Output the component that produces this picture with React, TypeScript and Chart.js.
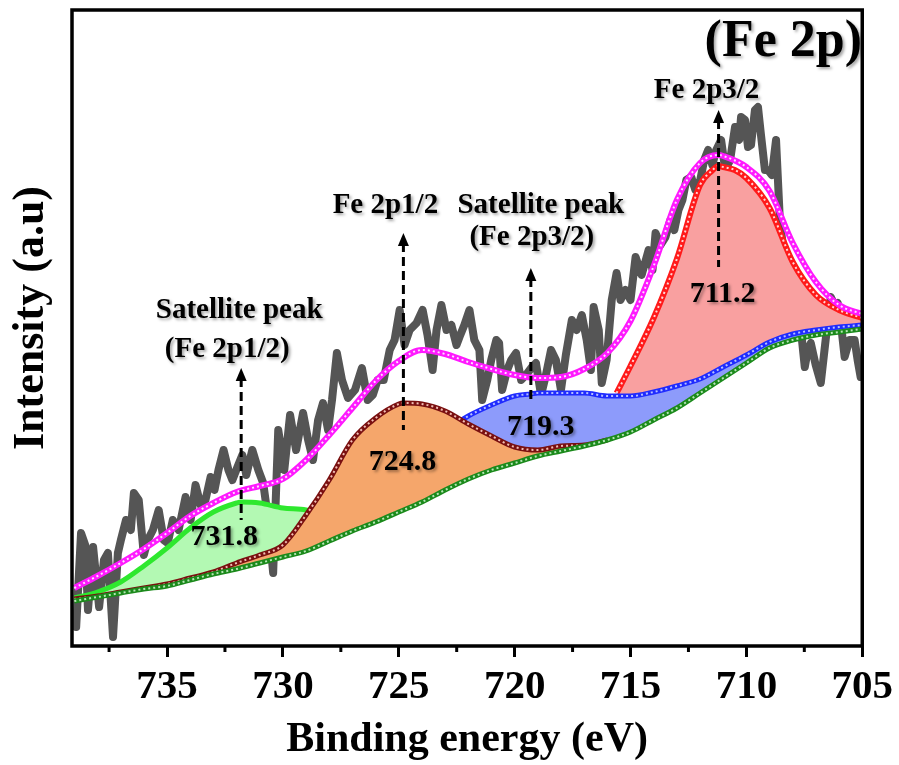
import React, { useEffect, useRef } from 'react';
import { Chart, registerables } from 'chart.js';

Chart.register(...registerables);

// ---- Measured Fe 2p spectrum (binding energy in eV, intensity in a.u.) ----
const rawEnergy = [
  738.92, 738.71, 738.53, 738.41, 738.19, 737.93, 737.72, 737.55, 737.33, 737.12,
  736.99, 736.77, 736.56, 736.43, 736.22, 736.0, 735.83, 735.61, 735.36, 735.14,
  734.97, 734.75, 734.5, 734.2, 733.98, 733.77, 733.55, 733.34, 733.12, 732.95,
  732.78, 732.56, 732.35, 732.18, 731.96, 731.75, 731.58, 731.32, 731.06, 730.85,
  730.63, 730.42, 730.2, 729.94, 729.69, 729.43, 729.13, 728.91, 728.7, 728.48,
  728.27, 728.05, 727.88, 727.67, 727.45, 727.19, 726.89, 726.59, 726.34, 726.12,
  725.91, 725.65, 725.39, 725.18, 724.96, 724.75, 724.53, 724.23, 723.97, 723.76,
  723.54, 723.37, 723.16, 722.94, 722.73, 722.51, 722.38, 722.17, 721.95, 721.74,
  721.52, 721.4, 721.18, 721.01, 720.79, 720.67, 720.54, 720.32, 720.15, 719.94,
  719.72, 719.51, 719.25, 719.08, 718.86, 718.65, 718.43, 718.22, 718.0, 717.79,
  717.53, 717.32, 717.1, 716.89, 716.71, 716.59, 716.37, 716.24, 716.03, 715.81,
  715.6, 715.43, 715.21, 715.0, 714.78, 714.52, 714.22, 714.05, 713.92, 713.71,
  713.49, 713.28, 713.11, 712.93, 712.76, 712.59, 712.38, 712.2, 711.99, 711.82,
  711.65, 711.47, 711.3, 711.09, 710.91, 710.7, 710.49, 710.31, 710.23, 710.06,
  709.93, 709.8, 709.63, 709.5, 709.37, 709.2, 709.07, 708.9, 708.72, 708.55,
  708.34, 708.12, 707.91, 707.69, 707.48, 707.35, 707.22, 707.01, 706.79, 706.58,
  706.36, 706.19, 706.06, 705.89, 705.76, 705.55, 705.33, 705.2, 705.07,
];
const rawIntensity = [
  19, 113, 101, 36, 99, 39, 86, 93, 9, 93,
  106, 126, 116, 153, 146, 91, 106, 116, 136, 106,
  103, 126, 116, 149, 126, 161, 141, 146, 169, 156,
  176, 196, 176, 166, 179, 191, 171, 196, 176, 163,
  126, 73, 216, 176, 231, 196, 233, 206, 186, 226,
  243, 216, 246, 293, 266, 248, 256, 278, 246, 251,
  266, 266, 296, 306, 336, 301, 316, 323, 336, 311,
  276, 316, 341, 316, 321, 301, 309, 321, 336, 306,
  296, 246, 266, 286, 306, 303, 256, 276, 286, 293,
  266, 271, 279, 283, 251, 271, 296, 286, 256, 291,
  326, 316, 331, 306, 276, 339, 316, 263, 286, 346,
  373, 346, 356, 346, 389, 371, 396, 376, 413, 401,
  409, 426, 416, 436, 446, 466, 469, 456, 466, 486,
  496, 481, 496, 506, 476, 486, 519, 506, 529, 526,
  499, 501, 536, 539, 511, 476, 476, 471, 506, 423,
  386, 366, 346, 326, 279, 296, 303, 281, 263, 306,
  349, 341, 343, 316, 289, 306, 306, 286, 269,
];

// ---- Fitted components ----
const bgEnergy = [739, 738, 737, 736, 735, 734, 733, 732, 731, 730, 729, 728, 727, 726, 725, 724, 723, 722, 721, 720, 719, 718, 717, 716, 715, 714, 713, 712, 711, 710, 709, 708, 707, 706, 705];
const bgIntensity = [45, 49, 53, 57, 60, 66, 72, 77, 83, 89, 95, 105, 115, 124, 134, 144, 156, 167, 176, 183, 190, 195, 200, 206, 214, 226, 238, 253, 268, 283, 298, 306, 311, 314, 317];

const sat2p12Energy = [739, 738, 737, 736, 735, 734, 733, 732, 731.8, 731, 730, 729, 728, 727];
const sat2p12Intensity = [48, 54, 64, 80, 98, 118, 134, 143, 144, 143, 138, 136, 128, 124];

const p12Energy = [739, 738, 737, 736, 735, 734, 733, 732, 731, 730, 729, 728, 727, 726, 725, 724.8, 724, 723, 722, 721, 720, 719, 718, 717, 716];
const p12Intensity = [47, 50, 54, 58, 62, 68, 74, 83, 91, 101, 131, 166, 206, 228, 242, 243, 242, 235, 222, 210, 199, 196, 200, 201, 206];

const sat2p32Energy = [723, 722, 721, 720, 719.3, 719, 718, 717, 716, 715, 714, 713, 712, 711, 710, 709, 708, 707, 706, 705];
const sat2p32Intensity = [215, 230, 241, 250, 252, 253, 253, 253, 250, 250, 254, 260, 267, 279, 291, 304, 312, 316, 319, 321];

const p32Energy = [715.6, 715, 714, 713, 712, 711.5, 711.2, 711, 710.5, 710, 709, 708, 707, 706, 705];
const p32Intensity = [253, 280, 328, 387, 461, 475, 480, 479, 476, 468, 438, 384, 351, 336, 328];

const envEnergy = [739, 738, 737, 736, 735, 734, 733, 732, 731, 730, 729, 728, 727, 726, 725, 724, 723, 722, 721, 720, 719, 718, 717, 716, 715, 714, 713, 712, 711.2, 711, 710, 709, 708, 707, 706, 705];
const envIntensity = [58, 70, 83, 97, 113, 130, 143, 154, 160, 167, 186, 211, 238, 265, 285, 296, 292, 284, 277, 271, 268, 269, 277, 293, 325, 380, 446, 483, 491, 490, 479, 455, 403, 364, 341, 332];

// ---- Axis ----
const majorTicks = [735, 730, 725, 720, 715, 710, 705];
const minorTicks = [737.5, 732.5, 727.5, 722.5, 717.5, 712.5, 707.5];

// ---- Peak annotations ----
const peakCenters = [731.8, 724.8, 719.3, 711.2];
const peakNames = [
  ['Satellite peak', '(Fe 2p1/2)'],
  ['Fe 2p1/2'],
  ['Satellite peak', '(Fe 2p3/2)'],
  ['Fe 2p3/2'],
];

// arrow ends and text baselines in intensity units, horizontal offsets in px
const markerLayout = [
  { arrowFrom: 126, arrowTo: 278, valueDx: -17, valueY: 101, nameDx: [-2, -14], nameY: [328, 289] },
  { arrowFrom: 216, arrowTo: 413, valueDx: -1, valueY: 176, nameDx: [-18], nameY: [433] },
  { arrowFrom: 246, arrowTo: 378, valueDx: 10, valueY: 211, nameDx: [10, 1], nameY: [433, 401] },
  { arrowFrom: 379, arrowTo: 536, valueDx: 4, valueY: 344, nameDx: [-12], nameY: [548] },
];

const SERIF = "'Liberation Serif', 'Times New Roman', Times, serif";

const toPoints = (xs: number[], ys: number[]) => xs.map((x, i) => ({ x, y: ys[i] }));

const curve = (data: any[], color: string, width: number, order: number, extra: any = {}) => ({
  data,
  borderColor: color,
  borderWidth: width,
  pointRadius: 0,
  pointHoverRadius: 0,
  cubicInterpolationMode: 'monotone',
  fill: false,
  order,
  ...extra,
});

// light dotted trace laid over a fitted curve
const beads = (data: any[], color: string, order: number) => ({
  data,
  borderColor: color,
  borderWidth: 2,
  borderDash: [2, 3],
  pointRadius: 0,
  pointHoverRadius: 0,
  cubicInterpolationMode: 'monotone',
  fill: false,
  order,
});

const shadowOn = (ctx: CanvasRenderingContext2D) => {
  ctx.shadowColor = 'rgba(0,0,0,0.35)';
  ctx.shadowBlur = 3;
  ctx.shadowOffsetX = 2;
  ctx.shadowOffsetY = 2;
};
const shadowOff = (ctx: CanvasRenderingContext2D) => {
  ctx.shadowColor = 'rgba(0,0,0,0)';
  ctx.shadowBlur = 0;
  ctx.shadowOffsetX = 0;
  ctx.shadowOffsetY = 0;
};

const decorPlugin = {
  id: 'decor',
  afterDatasetsDraw(chart: any) {
    const { ctx, chartArea: a, scales } = chart;
    const x = scales.x;
    const y = scales.y;
    ctx.save();

    // minor ticks
    ctx.strokeStyle = '#000';
    ctx.lineWidth = 3;
    minorTicks.forEach((v) => {
      const px = x.getPixelForValue(v);
      ctx.beginPath();
      ctx.moveTo(px, a.bottom);
      ctx.lineTo(px, a.bottom + 6);
      ctx.stroke();
    });

    // frame
    ctx.lineWidth = 3.5;
    ctx.strokeRect(a.left, a.top, a.right - a.left, a.bottom - a.top);

    // dashed arrows marking the peaks
    ctx.fillStyle = '#000';
    peakCenters.forEach((c, i) => {
      const m = markerLayout[i];
      const px = x.getPixelForValue(c);
      const yTip = y.getPixelForValue(m.arrowTo);
      const yBase = y.getPixelForValue(m.arrowFrom);
      ctx.setLineDash([9, 5]);
      ctx.lineWidth = 3;
      ctx.beginPath();
      ctx.moveTo(px, yTip + 10);
      ctx.lineTo(px, yBase);
      ctx.stroke();
      ctx.setLineDash([]);
      ctx.beginPath();
      ctx.moveTo(px, yTip);
      ctx.lineTo(px - 5.5, yTip + 13);
      ctx.lineTo(px + 5.5, yTip + 13);
      ctx.closePath();
      ctx.fill();
    });

    // peak labels
    shadowOn(ctx);
    ctx.textAlign = 'center';
    ctx.textBaseline = 'alphabetic';
    peakCenters.forEach((c, i) => {
      const m = markerLayout[i];
      const px = x.getPixelForValue(c);
      ctx.font = `bold 30px ${SERIF}`;
      ctx.fillText(c.toFixed(1), px + m.valueDx, y.getPixelForValue(m.valueY));
      ctx.font = `bold 29px ${SERIF}`;
      peakNames[i].forEach((t, k) => {
        ctx.fillText(t, px + m.nameDx[k], y.getPixelForValue(m.nameY[k]));
      });
    });

    // panel title
    ctx.font = `bold 52px ${SERIF}`;
    ctx.textAlign = 'right';
    ctx.fillText('(Fe 2p)', 862, 56);
    shadowOff(ctx);

    // y-axis title
    ctx.font = `bold 44px ${SERIF}`;
    ctx.textAlign = 'center';
    ctx.translate(43, 318);
    ctx.rotate(-Math.PI / 2);
    ctx.fillText('Intensity (a.u)', 0, 0);

    ctx.restore();
  },
};

export default function App() {
  const ref = useRef<HTMLCanvasElement>(null);

  useEffect(() => {
    const canvas = ref.current;
    if (!canvas) return;

    const bg = toPoints(bgEnergy, bgIntensity);
    const sat12 = toPoints(sat2p12Energy, sat2p12Intensity);
    const p12 = toPoints(p12Energy, p12Intensity);
    const sat32 = toPoints(sat2p32Energy, sat2p32Intensity);
    const p32 = toPoints(p32Energy, p32Intensity);
    const env = toPoints(envEnergy, envIntensity);

    const chart = new Chart(canvas, {
      type: 'line',
      data: {
        datasets: [
          {
            data: toPoints(rawEnergy, rawIntensity),
            borderColor: '#555555',
            borderWidth: 8,
            tension: 0,
            pointRadius: 0,
            pointHoverRadius: 0,
            borderJoinStyle: 'round',
            borderCapStyle: 'round',
            fill: false,
            order: 20,
          },
          curve(bg, '#1b8a1b', 5, 2),
          curve(p32, '#ff1a1a', 6, 12, { fill: { target: 1 }, backgroundColor: '#f9a0a0' }),
          beads(p32, 'rgba(255,225,225,0.95)', 11.9),
          curve(sat32, '#1f2bff', 5, 11, { fill: { target: 1 }, backgroundColor: '#8d9bfb' }),
          beads(sat32, 'rgba(200,210,255,0.9)', 10.9),
          curve(sat12, '#2ee82e', 5, 10, { fill: { target: 1 }, backgroundColor: '#b3f9b3' }),
          curve(p12, '#7a1010', 5, 9, { fill: { target: 1 }, backgroundColor: '#f5a66b' }),
          beads(p12, 'rgba(255,210,200,0.9)', 8.9),
          curve(env, '#ff19ff', 6, 8),
          beads(env, 'rgba(255,235,255,0.95)', 7.9),
          beads(bg, 'rgba(200,240,200,0.9)', 1.9),
        ] as any,
      },
      options: {
        animation: false,
        responsive: false,
        devicePixelRatio: 1,
        events: [],
        layout: { padding: { left: 72, right: 33, top: 10, bottom: 0 } },
        plugins: {
          legend: { display: false },
          tooltip: { enabled: false },
          title: { display: false },
          filler: { propagate: false },
        },
        scales: {
          x: {
            type: 'linear',
            reverse: true,
            min: 705,
            max: 739.1,
            afterFit: (s: any) => {
              s.height = 119;
            },
            afterBuildTicks: (s: any) => {
              s.ticks = majorTicks.map((v) => ({ value: v }));
            },
            ticks: {
              autoSkip: false,
              maxRotation: 0,
              padding: 6,
              color: '#000',
              font: { family: SERIF, size: 41, weight: 'bold' },
              callback: (v: any) => String(v),
            },
            grid: {
              drawOnChartArea: false,
              drawTicks: true,
              tickLength: 11,
              tickWidth: 3,
              tickColor: '#000',
            },
            border: { display: false },
            title: {
              display: true,
              text: 'Binding energy (eV)',
              color: '#000',
              font: { family: SERIF, size: 42, weight: 'bold' },
              padding: { top: 0, bottom: 0 },
            },
          },
          y: { display: false, min: 0, max: 636 },
        },
      } as any,
      plugins: [decorPlugin],
    });

    return () => chart.destroy();
  }, []);

  return (
    <div style={{ position: 'fixed', left: 0, top: 0, width: 899, height: 765, background: '#fff' }}>
      <canvas ref={ref} width={899} height={765} style={{ display: 'block', width: 899, height: 765 }} />
    </div>
  );
}
